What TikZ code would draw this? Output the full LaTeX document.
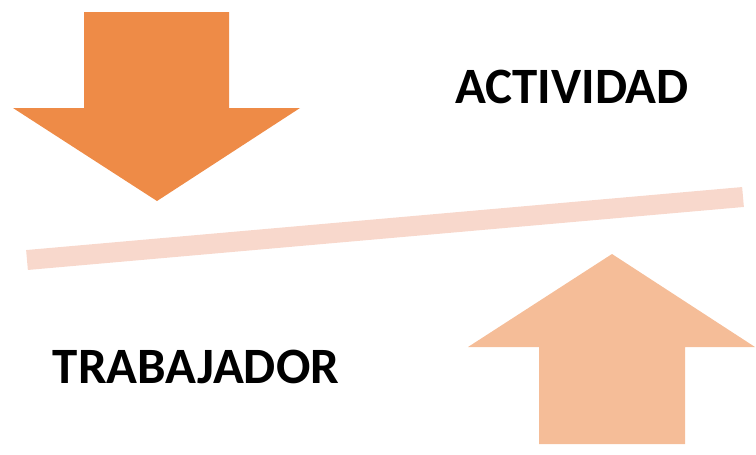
\documentclass[tikz,border=0pt]{standalone}
\usepackage{fontspec}
\setmainfont{Carlito}
\usepackage{xcolor}
\usepackage{tikz}
\usetikzlibrary{positioning}

\definecolor{darkorange}{HTML}{EE8B47}
\definecolor{lightorange}{HTML}{F5BD98}
\definecolor{lightpink}{HTML}{F8D8CC}

\begin{document}
\begin{tikzpicture}[
			x=0.02cm, y=-0.02cm,
			bigarrow/.style={draw=none},
			label/.style={font=\bfseries\fontsize{29}{34}\selectfont, text=black, inner sep=0pt},
			balance/.style={draw=lightpink, line width=0.4cm, line cap=butt}
			]
			\useasboundingbox (0,0) rectangle (756,454);
			
			% flechas
			\fill [bigarrow, darkorange] (84,12) -- (229,12) -- (229,108) -- (300,108) -- (157,201) -- (13,108) -- (84,108) -- cycle;
			\fill [bigarrow, lightorange] (539,444) -- (685,444) -- (685,347) -- (755,347) -- (612,254) -- (468,347) -- (539,347) -- cycle;
			
			% barra
			\coordinate (L) at (27,260);
			\coordinate (R) at (743,197);
			\draw [balance] (L) -- (R);
			
			% textos
			\node (act) [label] at (572,87) {ACTIVIDAD};
			\node (trab) [label] at (196,367) {TRABAJADOR};
			
		\end{tikzpicture}
\end{document}
